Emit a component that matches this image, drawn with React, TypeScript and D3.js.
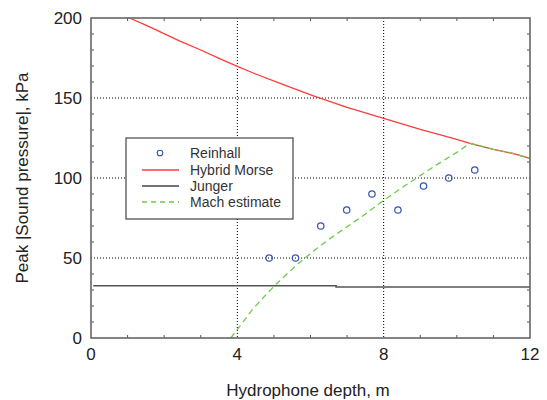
import React from "react";
import * as d3 from "d3";

// Reinhall measurements: hydrophone depth (m) vs peak |sound pressure| (kPa)
const reinhallDepth = [4.87, 5.59, 6.28, 6.99, 7.68, 8.39, 9.09, 9.78, 10.49];
const reinhallPressure = [50, 50, 70, 80, 90, 80, 95, 100, 105];

// Hybrid Morse model curve
const morseDepth = [1.05, 1.5, 1.98, 2.43, 3.0, 3.5, 4.0, 4.5, 5.17, 6.08, 7.0, 8.0, 9.0, 9.9, 10.36, 11.0, 11.5, 12.0];
const morsePressure = [200, 195.5, 190.4, 185.5, 180, 174.8, 169.8, 165, 159.2, 151.3, 144.2, 137.3, 130.4, 124.8, 121.7, 117.9, 115.5, 112.3];

// Junger estimate (two nearly flat segments)
const jungerDepth = [0.06, 6.7, 6.7, 12.0];
const jungerPressure = [32.7, 32.7, 31.9, 31.9];

// Mach estimate, capped by the Hybrid Morse curve beyond the crossing
const machDepth = [3.82, 4.44, 5.03, 5.62, 6.17, 6.62, 7.0, 7.5, 8.0, 8.5, 9.0, 9.5, 10.0, 10.36, 11.0, 11.5, 12.0];
const machPressure = [0, 18.6, 33, 45.6, 56, 63.5, 69.5, 77.5, 86, 94, 101.5, 109, 116, 121.7, 117.9, 115.5, 112.3];

const xTicks = [0, 4, 8, 12];
const yTicks = [0, 50, 100, 150, 200];
const legendLabels = ["Reinhall", "Hybrid Morse", "Junger", "Mach estimate"];

const W = 547;
const H = 400;
const left = 91;
const right = 530;
const top = 18;
const bottom = 338;

const font = "Arial, 'Liberation Sans', sans-serif";

export default function App() {
  const x = d3.scaleLinear().domain([0, 12]).range([left, right]);
  const y = d3.scaleLinear().domain([0, 200]).range([bottom, top]);

  const line = d3
    .line<[number, number]>()
    .x((d) => x(d[0]))
    .y((d) => y(d[1]));

  const zip = (a: number[], b: number[]) => a.map((v, i) => [v, b[i]] as [number, number]);

  const minorX = d3.range(1, 12).filter((v) => v % 4 !== 0);
  const minorY = d3.range(10, 200, 10).filter((v) => v % 50 !== 0);

  const red = "#ff3b3b";
  const green = "#6cc94a";
  const blue = "#3352b0";

  const lx = 126;
  const ly = 138;
  const lw = 167;
  const lh = 81;
  const rowY = [153, 170, 186, 202];

  return (
    <svg
      width={W}
      height={H}
      style={{ position: "absolute", left: 0, top: 0, background: "#fff" }}
      fontFamily={font}
    >
      <rect x={0} y={0} width={W} height={H} fill="#fff" />

      {/* grid */}
      {xTicks
        .filter((v) => v > 0 && v < 12)
        .map((v) => (
          <line key={"gx" + v} x1={x(v)} x2={x(v)} y1={top} y2={bottom} stroke="#000" strokeWidth={1} strokeDasharray="1,2" />
        ))}
      {yTicks
        .filter((v) => v > 0 && v < 200)
        .map((v) => (
          <line key={"gy" + v} x1={left} x2={right} y1={y(v)} y2={y(v)} stroke="#000" strokeWidth={1} strokeDasharray="1,2" />
        ))}

      {/* minor ticks */}
      {minorX.map((v) => (
        <g key={"mx" + v}>
          <line x1={x(v)} x2={x(v)} y1={top} y2={top + 3} stroke="#555" strokeWidth={1} />
          <line x1={x(v)} x2={x(v)} y1={bottom} y2={bottom - 3} stroke="#555" strokeWidth={1} />
        </g>
      ))}
      {minorY.map((v) => (
        <g key={"my" + v}>
          <line x1={left} x2={left + 3} y1={y(v)} y2={y(v)} stroke="#555" strokeWidth={1} />
          <line x1={right} x2={right - 3} y1={y(v)} y2={y(v)} stroke="#555" strokeWidth={1} />
        </g>
      ))}

      {/* Junger */}
      <path d={line(zip(jungerDepth, jungerPressure)) || ""} fill="none" stroke="#555" strokeWidth={1.6} />

      {/* Hybrid Morse */}
      <path d={line(zip(morseDepth, morsePressure)) || ""} fill="none" stroke={red} strokeWidth={1.3} />

      {/* Mach estimate */}
      <path
        d={line(zip(machDepth, machPressure)) || ""}
        fill="none"
        stroke={green}
        strokeWidth={1.3}
        strokeDasharray="6,4"
      />

      {/* Reinhall */}
      {reinhallDepth.map((d, i) => (
        <circle key={"r" + i} cx={x(d)} cy={y(reinhallPressure[i])} r={3.2} fill="none" stroke={blue} strokeWidth={1.2} />
      ))}

      {/* frame */}
      <rect x={left} y={top} width={right - left} height={bottom - top} fill="none" stroke="#666" strokeWidth={1.6} />

      {/* tick labels */}
      {xTicks.map((v) => (
        <text key={"xl" + v} x={x(v)} y={360} textAnchor="middle" fontSize={17} fill="#222">
          {v}
        </text>
      ))}
      {yTicks.map((v) => (
        <text key={"yl" + v} x={82} y={y(v) + 6} textAnchor="end" fontSize={17} fill="#222">
          {v}
        </text>
      ))}

      {/* axis titles */}
      <text x={308} y={396} textAnchor="middle" fontSize={17} fill="#222">
        Hydrophone depth, m
      </text>
      <text transform={`translate(28,178) rotate(-90)`} textAnchor="middle" fontSize={17} fill="#222">
        Peak |Sound pressure|, kPa
      </text>

      {/* legend */}
      <rect x={lx} y={ly} width={lw} height={lh} fill="#fff" stroke="#444" strokeWidth={1.2} />
      <circle cx={160} cy={rowY[0]} r={2.8} fill="none" stroke={blue} strokeWidth={1.1} />
      <line x1={142} x2={179} y1={rowY[1]} y2={rowY[1]} stroke={red} strokeWidth={1.3} />
      <line x1={142} x2={179} y1={rowY[2]} y2={rowY[2]} stroke="#444" strokeWidth={1.3} />
      <line x1={142} x2={179} y1={rowY[3]} y2={rowY[3]} stroke={green} strokeWidth={1.3} strokeDasharray="5,4" />
      {legendLabels.map((t, i) => (
        <text key={"lg" + i} x={190} y={rowY[i] + 5} fontSize={14} fill="#333">
          {t}
        </text>
      ))}
    </svg>
  );
}
